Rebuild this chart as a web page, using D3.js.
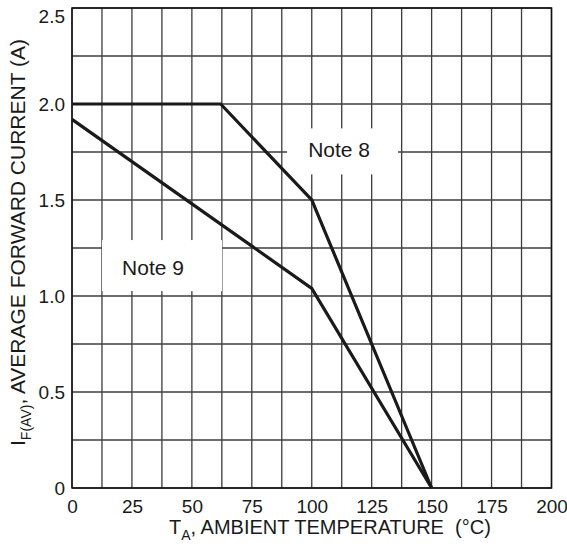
<!DOCTYPE html>
<html>
<head>
<meta charset="utf-8">
<script src="https://cdn.jsdelivr.net/npm/d3@7"></script>
<style>
body { margin: 0; background: #fff; }
text { font-family: Arial, "Liberation Sans", sans-serif; fill: #1a1a1a; white-space: pre; }
</style>
</head>
<body>
<div id="derating"><svg></svg></div>
<script>
// values
const xTicks = [0, 25, 50, 75, 100, 125, 150, 175, 200];
const yTicks = [0, 0.5, 1.0, 1.5, 2.0, 2.5];
const yTickLabels = ["0", "0.5", "1.0", "1.5", "2.0", "2.5"];
const note8Temp = [0, 62, 100, 150];
const note8Amps = [2.0, 2.0, 1.5, 0];
const note9Temp = [0, 100, 150];
const note9Amps = [1.92, 1.04, 0];
const noteLabels = ["Note 8", "Note 9"];
const noteTemp = [111.4, 33.8];   // label centre
const noteAmps = [1.722, 1.109];  // label baseline

const svgWidth = 567, svgHeight = 546;
const margin = {top: 8, right: 15.5, bottom: 58, left: 72};
const width = svgWidth - margin.left - margin.right;
const height = svgHeight - margin.top - margin.bottom;

// white box round each note label: left, right, top, bottom from text anchor
const noteBox = [[-52, 59, -29, 17], [-51, 69, -35, 16]];

const svg = d3.select("#derating").select("svg")
    .attr("width", svgWidth)
    .attr("height", svgHeight)
    .append("g")
    .attr("transform", "translate(" + margin.left + "," + margin.top + ")");

const xscale = d3.scaleLinear().range([0, width]).domain([0, 200]);
const yscale = d3.scaleLinear().range([height, 0]).domain([0, 2.5]);

//grid, every half tick
const xGrid = d3.range(0, 200.1, 12.5);
const yGrid = d3.range(0, 2.51, 0.25);

svg.selectAll(".vgrid")
    .data(xGrid)
    .enter()
    .append("line")
    .attr("x1", d => xscale(d)).attr("x2", d => xscale(d))
    .attr("y1", 0).attr("y2", height)
    .style("stroke", "#3c3c3c")
    .style("stroke-width", 1.3);

svg.selectAll(".hgrid")
    .data(yGrid)
    .enter()
    .append("line")
    .attr("x1", 0).attr("x2", width)
    .attr("y1", d => yscale(d)).attr("y2", d => yscale(d))
    .style("stroke", "#3c3c3c")
    .style("stroke-width", 1.3);

svg.append("rect")
    .attr("width", width)
    .attr("height", height)
    .style("fill", "none")
    .style("stroke", "#111")
    .style("stroke-width", 1.5);

//axes, labels only
const xAxis = d3.axisBottom(xscale).tickValues(xTicks).tickSize(0).tickPadding(12);
svg.append("g")
    .attr("transform", "translate(0," + height + ")")
    .call(xAxis)
    .call(g => g.select(".domain").remove())
    .selectAll("text")
    .style("font-size", "19px")
    .attr("font-family", null);

const yAxis = d3.axisLeft(yscale).tickValues(yTicks)
    .tickFormat((d, i) => yTickLabels[i]).tickSize(0).tickPadding(7);
svg.append("g")
    .call(yAxis)
    .call(g => g.select(".domain").remove())
    .selectAll("text")
    .style("font-size", "19px")
    .attr("font-family", null)
    .attr("dy", d => d === 2.5 ? "0.75em" : "0.32em");

//white boxes behind the notes
noteLabels.forEach(function(label, i) {
    const cx = xscale(noteTemp[i]);
    const cy = yscale(noteAmps[i]);
    const b = noteBox[i];
    svg.append("rect")
        .attr("x", cx + b[0])
        .attr("y", cy + b[2])
        .attr("width", b[1] - b[0])
        .attr("height", b[3] - b[2])
        .style("fill", "#fff");
});

//curves
const line = d3.line()
    .x(d => xscale(d[0]))
    .y(d => yscale(d[1]));

svg.append("path")
    .datum(note8Temp.map((t, i) => [t, note8Amps[i]]))
    .attr("d", line)
    .style("fill", "none")
    .style("stroke", "#1a1a1a")
    .style("stroke-width", 3.2)
    .style("stroke-linejoin", "miter");

svg.append("path")
    .datum(note9Temp.map((t, i) => [t, note9Amps[i]]))
    .attr("d", line)
    .style("fill", "none")
    .style("stroke", "#1a1a1a")
    .style("stroke-width", 3.2)
    .style("stroke-linejoin", "miter");

noteLabels.forEach(function(label, i) {
    svg.append("text")
        .attr("x", xscale(noteTemp[i]))
        .attr("y", yscale(noteAmps[i]))
        .attr("text-anchor", "middle")
        .style("font-size", "21px")
        .text(label);
});

//axis titles
const xTitle = svg.append("text")
    .attr("x", 97)
    .attr("y", height + 45.5)
    .attr("text-anchor", "start")
    .style("font-size", "20px");
xTitle.append("tspan").text("T");
xTitle.append("tspan").attr("dy", 6).style("font-size", "14px").text("A");
xTitle.append("tspan").attr("dy", -6).text(", AMBIENT TEMPERATURE  (°C)");

const yTitle = svg.append("text")
    .attr("transform", "translate(" + (-47) + "," + 234.5 + ") rotate(-90)")
    .attr("text-anchor", "middle")
    .style("font-size", "21px");
yTitle.append("tspan").text("I");
yTitle.append("tspan").attr("dy", 6).style("font-size", "14px").text("F(AV)");
yTitle.append("tspan").attr("dy", -6).text(", AVERAGE FORWARD CURRENT (A)");
</script>
</body>
</html>
